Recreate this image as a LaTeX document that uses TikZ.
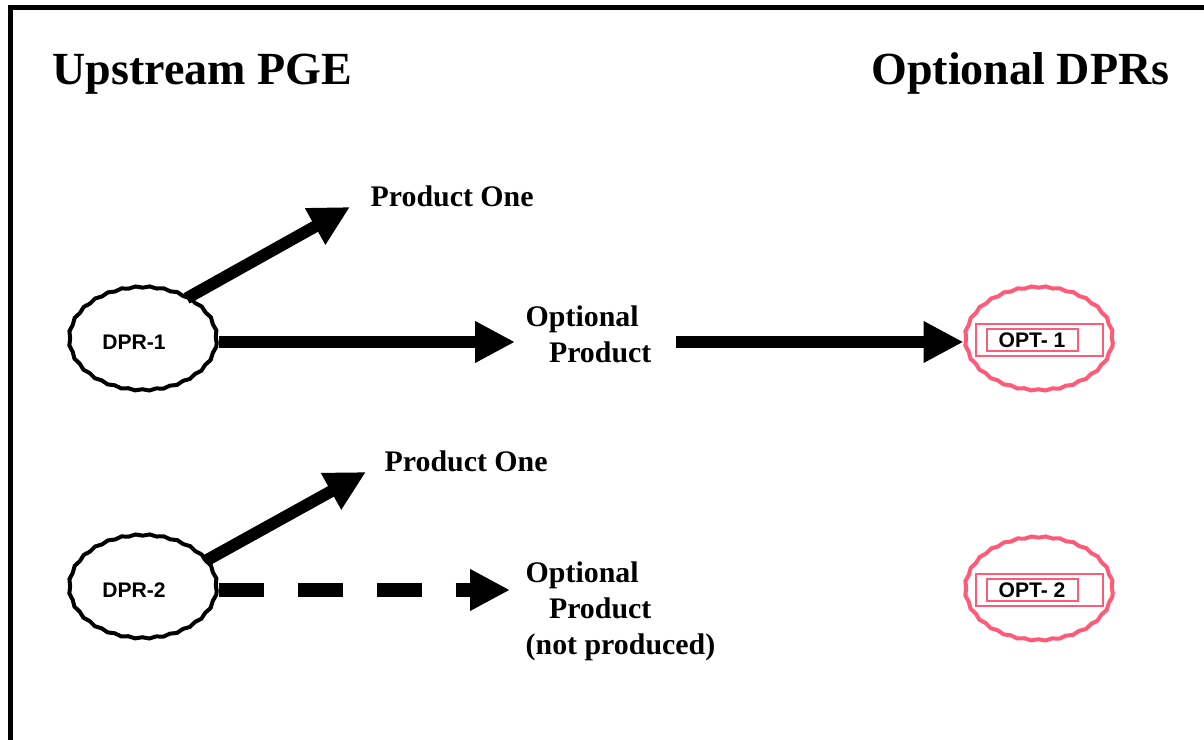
\documentclass[tikz,border=0pt]{standalone}
\usepackage{fontspec}
\setmainfont{Liberation Serif}
\setsansfont{Liberation Sans}
\usetikzlibrary{positioning, shapes.geometric, arrows.meta, decorations.pathmorphing}
\definecolor{optred}{RGB}{255,90,120}

\begin{document}
\begin{tikzpicture}[
          dpr/.style={ellipse, draw, line width=0.04cm, minimum width=1.47cm, minimum height=1.03cm, inner sep=0pt,
            font=\sffamily\bfseries\fontsize{6}{7}\selectfont, decorate, decoration={snake, amplitude=0.2pt, segment length=4pt}},
          opt/.style={dpr, draw=optred},
          optbox/.style={rectangle, draw=optred, line width=0.02cm, inner sep=0pt},
          arrow/.style={-{Triangle[length=0.4cm, width=0.39cm]}, line width=0.12cm},
          label/.style={font=\bfseries\fontsize{8.5}{10.24}\selectfont, inner sep=0pt, align=left},
          title/.style={font=\bfseries\fontsize{13.1}{15}\selectfont, inner sep=0pt}
        ]
        \useasboundingbox (0,0) rectangle (12.04,7.40);
        \draw[line width=0.05cm] (0.10,0) -- (0.10,7.325) -- (12.04,7.325);
        \node[title, anchor=base west] (upstream) at (0.52,6.55) {Upstream PGE};
        \node[title, anchor=base east] (optional) at (11.70,6.55) {Optional DPRs};
        \node[dpr] (dpr1) at (1.43,3.98) {DPR-1\hspace*{0.18cm}};
        \node[dpr] (dpr2) at (1.43,1.50) {DPR-2\hspace*{0.18cm}};
        \foreach \i/\y in {1/3.98, 2/1.48} {
          \node[opt] (opt\i) at (10.39,\y) {};
          \node[optbox, minimum width=1.27cm, minimum height=0.32cm, yshift=0.2mm] (optbox\i) at (opt\i) {};
          \node[optbox, minimum width=0.91cm, minimum height=0.22cm, xshift=-0.7mm, yshift=0.2mm,
            font=\sffamily\bfseries\fontsize{6}{7}\selectfont] (optlab\i) at (opt\i) {OPT- \i};
        }
        \node[label, anchor=base west] (one1) at (3.70,5.33) {Product One};
        \node[label, anchor=base west] (one2) at (3.84,2.68) {Product One};
        \node[label, anchor=north west] (prod1) at (5.25,4.35) {Optional\\\hspace*{0.78em}Product};
        \node[label, anchor=north west] (prod2) at (5.25,1.79) {Optional\\\hspace*{0.78em}Product\\(not produced)};
        \draw[arrow] (dpr1.45) -- ([xshift=-2mm]one1.base west);
        \draw[arrow, shorten >=1mm] (dpr1.east) -- (dpr1.east -| prod1.west);
        \draw[arrow, shorten <=2.4mm] (prod1.east |- opt1.west) -- (opt1.west);
        \draw[arrow] (dpr2.25) -- ([xshift=-1.8mm]one2.base west);
        \draw[arrow, line width=0.14cm, dash pattern=on 0.45cm off 0.34cm, shorten >=1.5mm] (dpr2.east) -- (dpr2.east -| prod2.west);
      \end{tikzpicture}
\end{document}
